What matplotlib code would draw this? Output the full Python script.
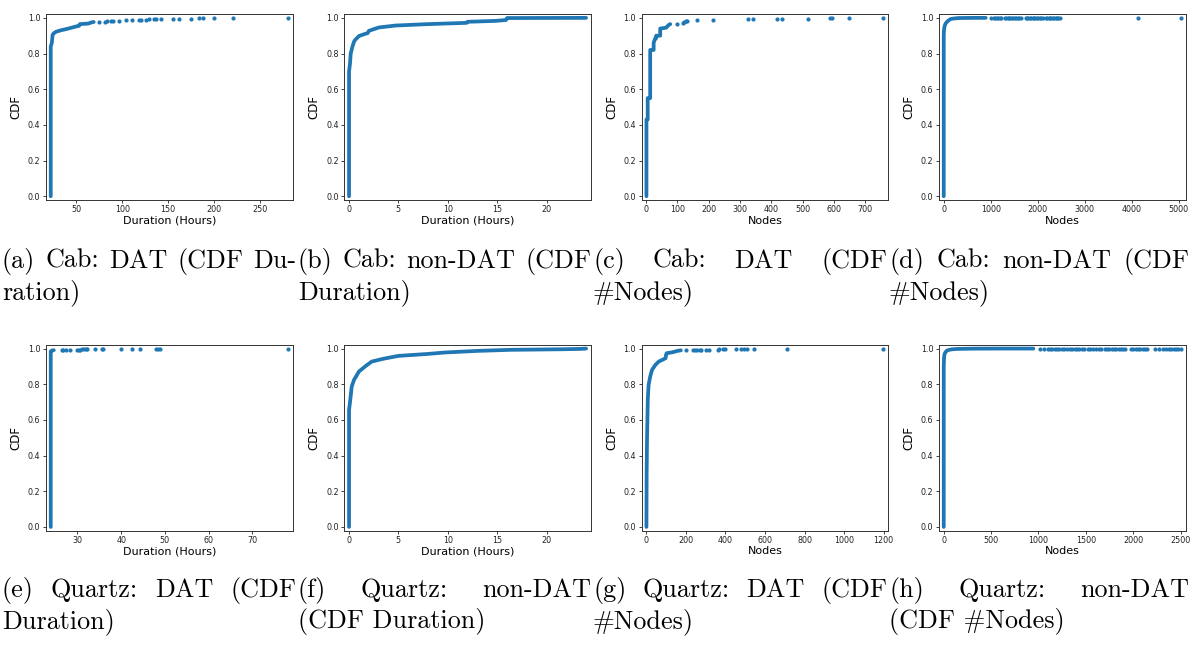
import matplotlib
matplotlib.use("Agg")
import matplotlib.pyplot as plt
from matplotlib.ticker import MultipleLocator

W, H = 1191, 646

# (a) Cab: DAT, duration in hours
a_curve_x = [22.3, 22.3, 23.5, 24.3, 25.5, 28, 33, 39, 45, 50, 53, 54, 60, 63, 67, 69]
a_curve_y = [0.0, 0.84, 0.86, 0.905, 0.913, 0.922, 0.93, 0.937, 0.945, 0.952, 0.955, 0.965, 0.967, 0.968, 0.975, 0.977]
a_tail_x = [75, 81, 83, 88, 90, 97, 104, 111, 118, 120, 126, 129, 135, 137, 142, 155, 162, 175, 183, 188, 200, 221, 280]
a_tail_y = [0.977, 0.979, 0.980, 0.982, 0.983, 0.985, 0.986, 0.987, 0.988, 0.989, 0.990, 0.991, 0.992, 0.993,
            0.994, 0.995, 0.995, 0.996, 0.997, 0.997, 0.998, 0.999, 1.0]

# (b) Cab: non-DAT, duration in hours
b_curve_x = [0, 0, 0.1, 0.17, 0.34, 0.5, 0.6, 1.0, 1.5, 1.9, 2.0, 3.0, 4.7, 8.0, 11.9, 12.0, 14.8, 15.9, 16.0, 24.0]
b_curve_y = [0.0, 0.70, 0.745, 0.80, 0.838, 0.866, 0.875, 0.898, 0.908, 0.915, 0.927, 0.946, 0.957, 0.965,
             0.972, 0.978, 0.983, 0.988, 0.999, 1.0]
b_tail_x = []
b_tail_y = []

# (c) Cab: DAT, number of nodes
c_curve_x = [1, 1, 5, 5, 13, 13, 24, 24, 29, 32, 32, 45, 45, 64, 68, 72, 77]
c_curve_y = [0.0, 0.43, 0.43, 0.55, 0.55, 0.82, 0.82, 0.86, 0.885, 0.885, 0.90, 0.90, 0.94, 0.945, 0.953, 0.96, 0.965]
c_tail_x = [100, 117, 121, 127, 132, 162, 215, 324, 340, 417, 433, 516, 586, 594, 649, 758]
c_tail_y = [0.965, 0.97, 0.975, 0.98, 0.985, 0.988, 0.99, 0.992, 0.992, 0.994, 0.994, 0.996, 0.997, 0.998, 0.999, 1.0]

# (d) Cab: non-DAT, number of nodes
d_curve_x = [1, 1, 5, 10, 21, 40, 71, 100, 143, 200, 321, 500, 700, 893]
d_curve_y = [0.0, 0.90, 0.925, 0.94, 0.955, 0.968, 0.978, 0.985, 0.993, 0.996, 0.999, 0.9995, 1.0, 1.0]
d_tail_x = [1000, 1070, 1100, 1130, 1160, 1190, 1210, 1300, 1330, 1360, 1390, 1420, 1450, 1480, 1510, 1540,
            1570, 1600, 1640, 1740, 1770, 1800, 1830, 1860, 1890, 1920, 1950, 1980, 2010, 2040, 2070, 2110,
            2170, 2200, 2230, 2260, 2290, 2320, 2350, 2380, 2410, 2440, 2470, 4140, 5040]
d_tail_y = [0.9995, 0.9995, 0.9995, 0.9995, 0.9995, 0.9995, 0.9995, 0.9996, 0.9996, 0.9996, 0.9996, 0.9996,
            0.9996, 0.9996, 0.9997, 0.9997, 0.9997, 0.9997, 0.9997, 0.9998, 0.9998, 0.9998, 0.9998, 0.9998,
            0.9998, 0.9998, 0.9998, 0.9998, 0.9999, 0.9999, 0.9999, 0.9999, 0.9999, 0.9999, 0.9999, 0.9999,
            0.9999, 0.9999, 0.9999, 1.0, 1.0, 1.0, 1.0, 1.0, 1.0]

# (e) Quartz: DAT, duration in hours
e_curve_x = [23.9, 23.9, 24.3, 24.6]
e_curve_y = [0.0, 0.985, 0.99, 0.991]
e_tail_x = [26.4, 26.7, 27.3, 28.4, 29.8, 30.3, 30.7, 31.1, 31.5, 31.9, 32.3, 34.1, 35.6, 35.8, 40.0,
            42.4, 44.2, 48.0, 48.4, 48.8, 78.1]
e_tail_y = [0.991, 0.992, 0.992, 0.993, 0.993, 0.994, 0.994, 0.995, 0.995, 0.996, 0.996, 0.996, 0.997,
            0.997, 0.998, 0.998, 0.998, 0.999, 0.999, 0.999, 1.0]

# (f) Quartz: non-DAT, duration in hours
f_curve_x = [0, 0, 0.1, 0.27, 0.5, 1.0, 1.7, 2.3, 3.4, 5.0, 8.0, 9.7, 13.0, 16.4, 21.4, 23.4, 24.0]
f_curve_y = [0.0, 0.655, 0.70, 0.786, 0.824, 0.871, 0.903, 0.927, 0.942, 0.959, 0.97, 0.978, 0.987,
             0.993, 0.996, 0.998, 1.0]
f_tail_x = []
f_tail_y = []

# (g) Quartz: DAT, number of nodes
g_curve_x = [1, 2, 4, 8, 12, 20, 29, 46, 63, 80, 98, 100, 103, 132, 158, 175]
g_curve_y = [0.0, 0.3, 0.5, 0.72, 0.796, 0.843, 0.88, 0.908, 0.927, 0.936, 0.946, 0.965, 0.974, 0.979, 0.987, 0.99]
g_tail_x = [201, 235, 247, 258, 270, 278, 304, 316, 361, 370, 387, 399, 455, 479, 493, 510, 545, 713, 1199]
g_tail_y = [0.990, 0.991, 0.991, 0.992, 0.992, 0.993, 0.993, 0.994, 0.994, 0.995, 0.995, 0.996, 0.996,
            0.997, 0.997, 0.998, 0.998, 0.999, 1.0]

# (h) Quartz: non-DAT, number of nodes
h_curve_x = [1, 1, 3, 5, 10, 20, 36, 60, 89, 150, 304, 600, 946]
h_curve_y = [0.0, 0.90, 0.93, 0.955, 0.97, 0.98, 0.989, 0.993, 0.996, 0.998, 0.9995, 1.0, 1.0]
h_tail_x = [1018, 1054, 1097, 1120, 1145, 1170, 1195, 1220, 1245, 1268, 1304, 1330, 1357, 1382, 1405, 1430,
            1455, 1480, 1518, 1547, 1575, 1605, 1635, 1661, 1696, 1720, 1745, 1770, 1795, 1820, 1845, 1870,
            1895, 1911, 1975, 2000, 2025, 2050, 2075, 2100, 2125, 2143, 2232, 2275, 2311, 2346, 2375, 2400,
            2425, 2450, 2475, 2500]
h_tail_y = [0.9996, 0.9996, 0.9996, 0.9996, 0.9996, 0.9996, 0.9997, 0.9997, 0.9997, 0.9997, 0.9997, 0.9997,
            0.9997, 0.9997, 0.9998, 0.9998, 0.9998, 0.9998, 0.9998, 0.9998, 0.9998, 0.9998, 0.9998, 0.9998,
            0.9999, 0.9999, 0.9999, 0.9999, 0.9999, 0.9999, 0.9999, 0.9999, 0.9999, 0.9999, 0.9999, 0.9999,
            0.9999, 0.9999, 0.9999, 0.9999, 0.9999, 0.9999, 1.0, 1.0, 1.0, 1.0, 1.0, 1.0, 1.0, 1.0, 1.0, 1.0]

curves = [(a_curve_x, a_curve_y, a_tail_x, a_tail_y),
          (b_curve_x, b_curve_y, b_tail_x, b_tail_y),
          (c_curve_x, c_curve_y, c_tail_x, c_tail_y),
          (d_curve_x, d_curve_y, d_tail_x, d_tail_y),
          (e_curve_x, e_curve_y, e_tail_x, e_tail_y),
          (f_curve_x, f_curve_y, f_tail_x, f_tail_y),
          (g_curve_x, g_curve_y, g_tail_x, g_tail_y),
          (h_curve_x, h_curve_y, h_tail_x, h_tail_y)]

x_labels = ["Duration (Hours)", "Duration (Hours)", "Nodes", "Nodes",
            "Duration (Hours)", "Duration (Hours)", "Nodes", "Nodes"]
x_steps = [50, 5, 100, 1000, 10, 5, 200, 500]

captions = [("(a) Cab: DAT (CDF Du-", "ration)"),
            ("(b) Cab: non-DAT (CDF", "Duration)"),
            ("(c) Cab: DAT (CDF", "#Nodes)"),
            ("(d) Cab: non-DAT (CDF", "#Nodes)"),
            ("(e) Quartz: DAT (CDF", "Duration)"),
            ("(f) Quartz: non-DAT", "(CDF Duration)"),
            ("(g) Quartz: DAT (CDF", "#Nodes)"),
            ("(h) Quartz: non-DAT", "(CDF #Nodes)")]

# layout in pixels
ax_left = [46, 344.3, 641.7, 939]
ax_width = 246.5
row_top = [14.3, 345]
ax_height = 185.5
cap_start = [2, 298, 593, 889]
cap_end = [296, 591, 887, 1189]
cap_base = [[268, 299], [597, 628]]

blue = "#1f77b4"
fig = plt.figure(figsize=(W / 100, H / 100), dpi=100)

for i, (cx, cy, tx, ty) in enumerate(curves):
    r, c = divmod(i, 4)
    rect = [ax_left[c] / W, 1 - (row_top[r] + ax_height) / H, ax_width / W, ax_height / H]
    ax = fig.add_axes(rect)
    ax.plot(cx, cy, color=blue, lw=2.7, solid_capstyle="round", solid_joinstyle="round")
    if tx:
        ax.plot(tx, ty, ".", color=blue, markersize=4)
    ax.margins(0.02)
    ax.xaxis.set_major_locator(MultipleLocator(x_steps[i]))
    ax.set_yticks([0.0, 0.2, 0.4, 0.6, 0.8, 1.0])
    ax.tick_params(labelsize=5.8, length=2.5, width=0.6, pad=1.5, colors="#222222")
    for s in ax.spines.values():
        s.set_linewidth(0.7)
        s.set_color("#333333")
    ax.set_xlabel(x_labels[i], fontsize=8, labelpad=1)
    ax.set_ylabel("CDF", fontsize=8.5, labelpad=4)

cap_font = dict(family="cmr10", fontsize=18.8, va="baseline", ha="left")
renderer = fig.canvas.get_renderer()
for i, (line1, line2) in enumerate(captions):
    r, c = divmod(i, 4)
    x0, x1 = cap_start[c], cap_end[c]
    words = line1.split(" ")
    texts = [fig.text(0, 0, w, **cap_font) for w in words]
    widths = [t.get_window_extent(renderer).width for t in texts]
    gap = (x1 - x0 - sum(widths)) / (len(words) - 1)
    x = x0
    for t, w in zip(texts, widths):
        t.set_position((x / W, 1 - cap_base[r][0] / H))
        x += w + gap
    fig.text(x0 / W, 1 - cap_base[r][1] / H, line2, **cap_font)

fig.savefig("out.png", dpi=100)
